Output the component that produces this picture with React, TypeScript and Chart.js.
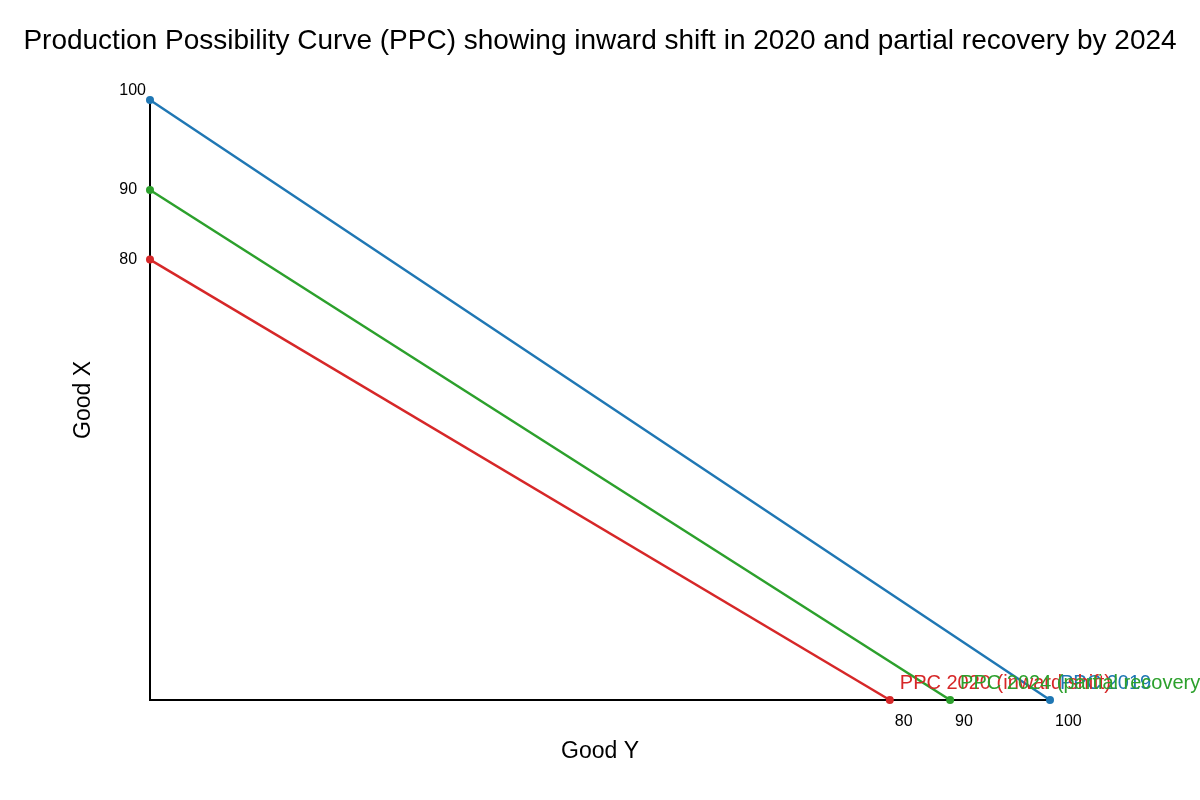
import React, { useRef, useEffect } from 'react';
import { Chart, registerables } from 'chart.js';

Chart.register(...registerables);

const curveNames = ['PPC 2019', 'PPC 2020 (inward shift)', 'PPC 2024 (partial recovery)'];
// where each curve meets the axes
const maxGoodX = [100, 73.4, 85]; // vertical intercept
const maxGoodY = [100, 82.2, 88.9]; // horizontal intercept
const tickText = ['100', '80', '90'];
const curveColors = ['#1f77b4', '#d62728', '#2ca02c'];

const FONT = '"Liberation Sans", Arial, sans-serif';
const TITLE = 'Production Possibility Curve (PPC) showing inward shift in 2020 and partial recovery by 2024';

// title centred on the whole canvas + text labels at the end of each curve
const labelsPlugin = {
  id: 'ppcLabels',
  afterDatasetsDraw(chart: any) {
    const { ctx } = chart;
    ctx.save();
    ctx.textBaseline = 'middle';
    ctx.textAlign = 'left';
    ctx.font = `20px ${FONT}`;
    chart.data.datasets.forEach((ds: any, i: number) => {
      const meta = chart.getDatasetMeta(i);
      const last = meta.data[meta.data.length - 1];
      if (!last) return;
      ctx.fillStyle = ds.borderColor;
      ctx.fillText(ds.label, last.x + 10, last.y - 17);
    });
    ctx.textAlign = 'center';
    ctx.fillStyle = '#000';
    ctx.font = `28px ${FONT}`;
    ctx.fillText(TITLE, chart.width / 2, 41);
    ctx.restore();
  },
};

const PPCChart: React.FC = () => {
  const canvasRef = useRef<HTMLCanvasElement>(null);
  const chartRef = useRef<Chart | null>(null);

  useEffect(() => {
    if (!canvasRef.current) return;
    const ctx = canvasRef.current.getContext('2d');
    if (!ctx) return;

    const datasets = curveNames.map((name, i) => ({
      label: name,
      data: [
        { x: 0, y: maxGoodX[i] },
        { x: maxGoodY[i], y: 0 },
      ],
      borderColor: curveColors[i],
      backgroundColor: curveColors[i],
      pointBackgroundColor: curveColors[i],
      pointBorderWidth: 0,
      pointRadius: 4,
      borderWidth: 2.5,
      clip: false as any,
      fill: false,
    }));

    const labelFor = (vals: number[], v: number) => {
      const i = vals.indexOf(v);
      return i < 0 ? '' : tickText[i];
    };

    chartRef.current = new Chart(ctx, {
      type: 'line',
      data: { datasets },
      plugins: [labelsPlugin],
      options: {
        animation: false,
        responsive: true,
        maintainAspectRatio: false,
        layout: { padding: { top: 100, right: 150, left: 0, bottom: 0 } },
        plugins: {
          legend: { display: false },
          title: { display: false },
          tooltip: { enabled: false },
        },
        scales: {
          x: {
            type: 'linear',
            min: 0,
            max: 100,
            afterBuildTicks: (s: any) => {
              s.ticks = [...maxGoodY].sort((a, b) => a - b).map((v) => ({ value: v }));
            },
            afterFit: (s: any) => {
              s.height = 100;
            },
            grid: { display: false, drawTicks: false },
            border: { display: true, color: '#000', width: 2 },
            ticks: {
              align: 'start',
              labelOffset: 5,
              padding: 12,
              color: '#000',
              font: { family: FONT, size: 16 },
              maxRotation: 0,
              autoSkip: false,
              callback: (v: any) => labelFor(maxGoodY, v),
            },
            title: {
              display: true,
              text: 'Good Y',
              color: '#000',
              font: { family: FONT, size: 23 },
              padding: { top: 0, bottom: 35 },
            },
          },
          y: {
            type: 'linear',
            min: 0,
            max: 100,
            afterBuildTicks: (s: any) => {
              s.ticks = [...maxGoodX].sort((a, b) => a - b).map((v) => ({ value: v }));
            },
            afterFit: (s: any) => {
              s.width = 150;
            },
            grid: { display: false, drawTicks: false },
            border: { display: true, color: '#000', width: 2 },
            ticks: {
              crossAlign: 'near',
              padding: 4,
              color: '#000',
              font: { family: FONT, size: 16 },
              autoSkip: false,
              // trailing figure space keeps the labels left-aligned; the top one sits a bit higher
              callback: (v: any) => {
                const t = labelFor(maxGoodX, v).padEnd(3, '\u2007');
                return v === Math.max(...maxGoodX) ? [t, ''] : t;
              },
            },
            title: {
              display: true,
              text: 'Good X',
              color: '#000',
              font: { family: FONT, size: 23 },
              padding: { top: 70, bottom: 0 },
            },
          },
        },
      } as any,
    });

    return () => {
      if (chartRef.current) {
        chartRef.current.destroy();
        chartRef.current = null;
      }
    };
  }, []);

  return <canvas ref={canvasRef} />;
};

export default function App() {
  return (
    <div style={{ position: 'fixed', left: 0, top: 0, width: 1200, height: 800, background: '#fff' }}>
      <PPCChart />
    </div>
  );
}
